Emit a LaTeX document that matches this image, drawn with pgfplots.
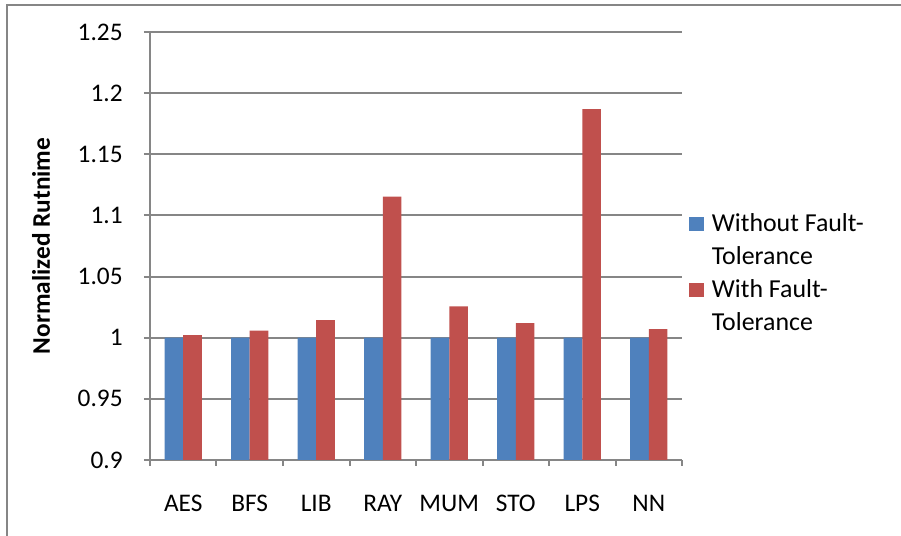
\documentclass[border=0pt]{standalone}
\usepackage{fontspec}
\setmainfont{Carlito}
\usepackage{pgfplots}
\pgfplotsset{compat=1.18}
\definecolor{exblue}{HTML}{4F81BD}
\definecolor{exred}{HTML}{C0504D}
\definecolor{exgrid}{HTML}{868686}
\newcommand{\twoline}[2]{\vtop{\baselineskip=24.75pt\hbox{\strut#1}\hbox{\strut#2}}}
\begin{document}
\begin{tikzpicture}
\path[use as bounding box] (0pt,0pt) rectangle (675.75pt,402pt);
\draw[exgrid, line width=1.2pt] (5.25pt,0pt) -- (5.25pt,398.25pt) -- (675.75pt,398.25pt);
\begin{axis}[
  at={(112.5pt,57pt)}, anchor=south west,
  scale only axis, width=399pt, height=321pt,
  ymin=0.9, ymax=1.25,
  ytick={0.9,0.95,1,1.05,1.1,1.15,1.2,1.25},
  yticklabels={0.9,0.95,1,1.05,1.1,1.15,1.2,1.25},
  xmin=-0.5, xmax=7.5,
  xtick={0,1,2,3,4,5,6,7},
  xticklabels={AES,BFS,LIB,RAY,MUM,STO,LPS,NN},
  minor xtick={-0.5,0.5,1.5,2.5,3.5,4.5,5.5,6.5,7.5},
  major x tick style={draw=none},
  minor tick length=4.5pt, major tick length=4.5pt,
  tick align=outside, tick pos=left,
  axis x line*=bottom, axis y line*=left,
  axis line style={exgrid, line width=1.5pt},
  tick style={exgrid, line width=1.5pt},
  ymajorgrids, grid style={exgrid, line width=1.5pt},
  ticklabel style={font=\fontsize{19}{23}\selectfont},
  yticklabel style={xshift=-12.5pt},
  xticklabel style={yshift=-18.5pt},
  ylabel={\fontsize{19}{23}\selectfont\bfseries Normalized Rutnime},
  ylabel style={at={(axis description cs:0,0.5)}, anchor=center, yshift=81.75pt},
  ybar=0pt, bar width=13.9pt,
  legend style={at={(1.0056,0.601)}, anchor=north west, draw=none, fill=none,
    font=\fontsize{19.4}{24.75}\selectfont, row sep=26.75pt},
  legend cell align=left,
  legend image code/.code={\fill[#1] (0pt,-7.75pt) rectangle (11pt,3.25pt); \path (15pt,0pt);},
]
\addplot[fill=exblue, draw=none] coordinates {(0,1) (1,1) (2,1) (3,1) (4,1) (5,1) (6,1) (7,1)};
\addplot[fill=exred, draw=none] coordinates {(0,1.0022) (1,1.0057) (2,1.0143) (3,1.1153) (4,1.0257) (5,1.012) (6,1.187) (7,1.007)};
\addlegendentry{\twoline{Without Fault-}{Tolerance}}
\addlegendentry{\twoline{With Fault-}{Tolerance}}
\end{axis}
\end{tikzpicture}
\end{document}
